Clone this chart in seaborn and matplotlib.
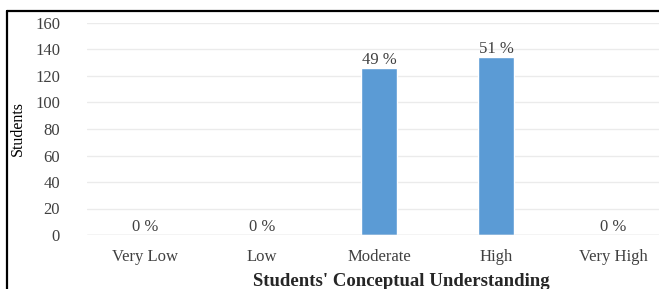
import matplotlib
matplotlib.use("Agg")
import matplotlib.pyplot as plt
import seaborn as sns
import pandas as pd
from matplotlib.lines import Line2D

sns.set_style("white")
plt.rcParams["font.family"] = ["Liberation Serif", "DejaVu Serif"]

# Data
levels = ["Very Low", "Low", "Moderate", "High", "Very High"]
students = [0, 0, 126, 134, 0]
percent_labels = ["0 %", "0 %", "49 %", "51 %", "0 %"]

df = pd.DataFrame({"level": levels, "students": students})

W, H = 659, 289
fig = plt.figure(figsize=(W / 100, H / 100), dpi=100)

# axes in pixel terms: left 86.5, right 671.5 (cropped), top 23, bottom 235
ax = fig.add_axes([86.5 / W, 1 - 235 / H, (671.5 - 86.5) / W, (235 - 23) / H])

sns.barplot(data=df, x="level", y="students", color="#5b9bd5",
            width=0.31, saturation=1, ax=ax)

ax.bar_label(ax.containers[0], labels=percent_labels, padding=0,
             fontsize=12, color="#404040")

ax.set_ylim(0, 160)
ax.set_yticks(range(0, 161, 20))
ax.yaxis.grid(True, color="#ebebeb", linewidth=1)
ax.set_axisbelow(True)
for s in ax.spines.values():
    s.set_visible(False)
ax.axhline(0, color="#d9d9d9", linewidth=1)

ax.tick_params(axis="x", length=0, labelsize=12, colors="#404040", pad=10)
ax.tick_params(axis="y", length=0, labelsize=12, colors="#404040", pad=19)

ax.set_ylabel("Students", fontsize=11.5, color="#000000")
ax.yaxis.set_label_coords((26 - 86.5) / (671.5 - 86.5), 0.5)
ax.set_xlabel("")
fig.text(401 / W, 1 - 281 / H, "Students' Conceptual Understanding",
         ha="center", va="center", fontsize=13.5, fontweight="bold")

# black frame on top and left edges
fig.add_artist(Line2D([7 / W, 7 / W], [0, 1 - 11 / H], color="black",
                      linewidth=1.6, transform=fig.transFigure))
fig.add_artist(Line2D([7 / W, 1], [1 - 11 / H, 1 - 11 / H], color="black",
                      linewidth=1.6, transform=fig.transFigure))

fig.savefig("out.png", dpi=100)
